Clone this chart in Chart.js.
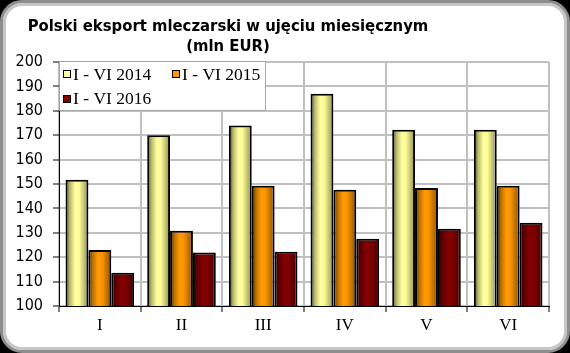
<!DOCTYPE html>
<html>
<head>
<meta charset="utf-8">
<script src="https://cdn.jsdelivr.net/npm/chart.js@4.4.1/dist/chart.umd.min.js"></script>
<style>
html, body { margin: 0; padding: 0; background: #000; }
#wrap { position: relative; width: 570px; height: 353px; }
#frame {
    position: absolute; left: 0; top: 0; width: 570px; height: 353px;
    box-sizing: border-box; border-radius: 22px;
    border: 3px solid #8e8e8e; box-shadow: inset 0 0 0 3px #c6c6c6;
    background: #fff;
}
#myChart { position: absolute; left: 0; top: 0; }
</style>
</head>
<body>
<div id="wrap">
    <div id="frame"></div>
    <canvas id="myChart" width="570" height="353"></canvas>
</div>
<script>
// data
const months = ['I', 'II', 'III', 'IV', 'V', 'VI'];
const seriesNames = ['I - VI 2014', 'I - VI 2015', 'I - VI 2016'];
const exp2014 = [151.7, 170.0, 174.0, 187.0, 172.2, 172.2];
const exp2015 = [123.0, 130.8, 149.3, 147.6, 148.4, 149.3];
const exp2016 = [113.6, 121.9, 122.2, 127.6, 131.7, 134.1];
const titleLines = ['Polski eksport mleczarski w ujęciu miesięcznym', '(mln EUR)'];

const baseColors = ['#ffff99', '#ff9900', '#800000'];
const shades = [
    [[0, '#34341a'], [0.18, '#b8b86a'], [0.42, '#ffffa0'], [0.6, '#fbfb96'], [1, '#8e8e50']],
    [[0, '#3a2200'], [0.18, '#b86e00'], [0.42, '#ff9b05'], [0.6, '#f99400'], [1, '#8a5200']],
    [[0, '#220000'], [0.2, '#600000'], [0.45, '#850000'], [0.65, '#7c0000'], [1, '#4a0000']]
];

const sansFont = '"DejaVu Sans Condensed", "DejaVu Sans", sans-serif';
const serifFont = '"Liberation Serif", "DejaVu Serif", serif';

// fill each bar with a horizontal shading like the original
const barShade = {
    id: 'barShade',
    beforeDatasetsDraw(chart) {
        const ctx = chart.ctx;
        chart.data.datasets.forEach((ds, i) => {
            const meta = chart.getDatasetMeta(i);
            meta.data.forEach(bar => {
                const g = ctx.createLinearGradient(bar.x - bar.width / 2, 0, bar.x + bar.width / 2, 0);
                shades[i].forEach(s => g.addColorStop(s[0], s[1]));
                bar.options = Object.assign({}, bar.options, { backgroundColor: g, inflateAmount: 0 });
            });
        });
    }
};

const titleAndLegend = {
    id: 'titleAndLegend',
    afterDraw(chart) {
        const ctx = chart.ctx;
        ctx.save();
        ctx.fillStyle = '#000';
        ctx.textAlign = 'center';
        ctx.textBaseline = 'alphabetic';
        ctx.font = 'bold 16.5px ' + sansFont;
        ctx.fillText(titleLines[0], 228, 31);
        ctx.fillText(titleLines[1], 228, 51);

        // legend box inside the plot
        ctx.fillStyle = '#fff';
        ctx.fillRect(59, 61, 206, 49);
        ctx.strokeStyle = '#a6a6a6';
        ctx.lineWidth = 1;
        ctx.strokeRect(59.5, 61.5, 206, 49);

        const spots = [[63, 70, 73, 80], [172, 70, 182, 80], [63, 95, 73, 104]];
        ctx.font = '17.5px ' + serifFont;
        ctx.textAlign = 'left';
        seriesNames.forEach((name, i) => {
            const p = spots[i];
            ctx.fillStyle = baseColors[i];
            ctx.fillRect(p[0], p[1], 7, 7);
            ctx.strokeStyle = '#000';
            ctx.strokeRect(p[0] + 0.5, p[1] + 0.5, 7, 7);
            ctx.fillStyle = '#000';
            ctx.fillText(name, p[2], p[3]);
        });
        ctx.restore();
    }
};

const datasets = [exp2014, exp2015, exp2016].map((vals, i) => ({
    label: seriesNames[i],
    data: vals,
    backgroundColor: baseColors[i],
    borderColor: '#000',
    borderWidth: 2,
    borderSkipped: false
}));

new Chart(document.getElementById('myChart'), {
    type: 'bar',
    data: { labels: months, datasets: datasets },
    plugins: [barShade, titleAndLegend],
    options: {
        responsive: false,
        animation: false,
        events: [],
        datasets: {
            bar: { categoryPercentage: 0.84, barPercentage: 1.0 }
        },
        layout: { padding: { top: 62, right: 21, left: 0, bottom: 0 } },
        plugins: {
            legend: { display: false },
            title: { display: false },
            tooltip: { enabled: false }
        },
        scales: {
            x: {
                ticks: { color: '#000', padding: 3, font: { family: serifFont, size: 17 } },
                grid: { color: '#c0c0c0', lineWidth: 2, tickColor: '#000', tickWidth: 1, tickLength: 6, offset: true },
                border: { color: '#000', width: 1 },
                afterFit(s) { s.height = 47; s.paddingLeft = 0; s.paddingRight = 0; }
            },
            y: {
                min: 100,
                max: 200,
                ticks: { stepSize: 10, padding: 10, color: '#000', font: { family: sansFont, size: 16 } },
                grid: { color: '#c0c0c0', lineWidth: 2, tickColor: '#000', tickWidth: 1, tickLength: 6 },
                border: { color: '#000', width: 1 },
                afterFit(s) { s.width = 59; s.paddingTop = 0; s.paddingBottom = 0; }
            }
        }
    }
});
</script>
</body>
</html>
